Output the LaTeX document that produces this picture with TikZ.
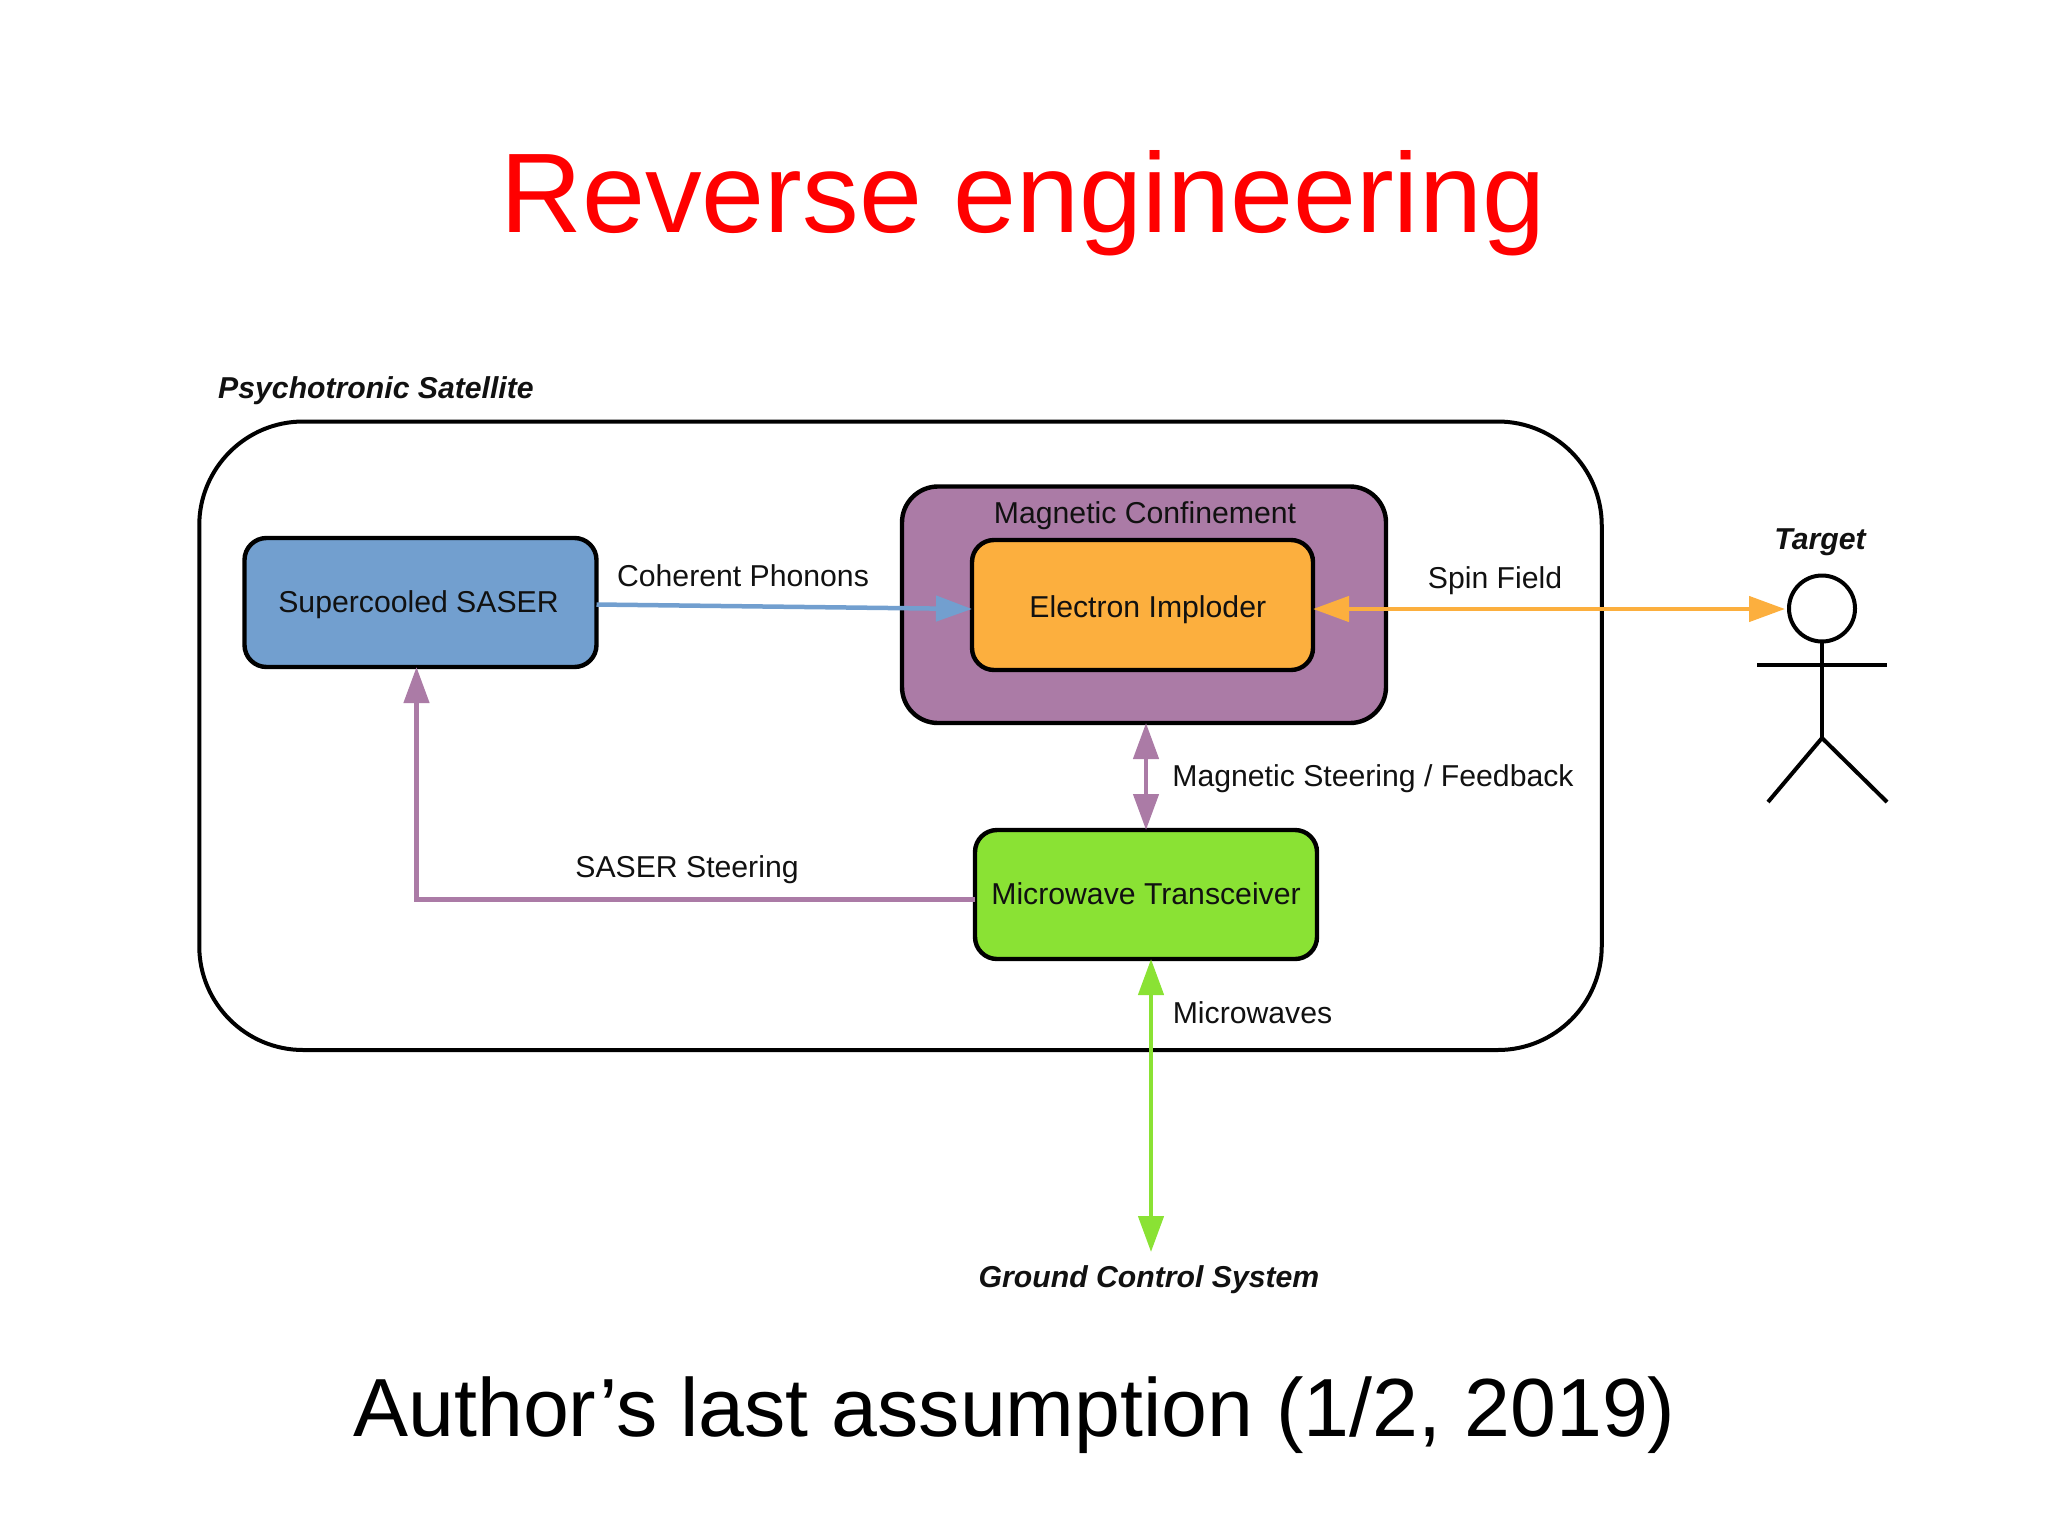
\documentclass[tikz,border=0pt]{standalone}
\usepackage{fontspec}
\setmainfont{Liberation Sans}
\usetikzlibrary{arrows.meta}
\definecolor{saserblue}{HTML}{729FCF}
\definecolor{confinepurple}{HTML}{AB7BA6}
\definecolor{imploderorange}{HTML}{FCAF3E}
\definecolor{waveGreen}{HTML}{8AE234}
\definecolor{inktext}{HTML}{111111}
\begin{document}
\begin{tikzpicture}[x=0.5pt,y=0.5pt,yscale=-1,xscale=1,
  box/.style={draw=black,line width=2.2pt,rounded corners=11pt,outer sep=0pt,inner sep=0pt,text=inktext,text depth=0pt,font=\fontsize{15.1}{18}\selectfont},
  lbl/.style={anchor=base,inner sep=0pt,text=inktext,font=\fontsize{15.1}{18}\selectfont},
  ilbl/.style={anchor=base,inner sep=0pt,text=inktext,font=\fontsize{15.1}{18}\selectfont\itshape\bfseries},
  link/.style={line width=2.25pt},
  bothtip/.style={{Triangle[length=18pt,width=12.5pt]}-{Triangle[length=18pt,width=12.5pt]}},
  endtip/.style={-{Triangle[length=18pt,width=12.5pt]}}]
\useasboundingbox (0,0) rectangle (2048,1536);
\draw (1023,232) node (titletext) [anchor=base,inner sep=0pt,text=red,font=\fontsize{56.6}{60}\selectfont] {Reverse engineering};
\draw (1014.5,1436.5) node (assumption) [anchor=base,inner sep=0pt,text=black,font=\fontsize{41.25}{46}\selectfont] {Author’s last assumption (1/2, 2019)};
\draw (900.5,735.75) node (satellite) [draw=black,line width=2pt,rounded corners=52pt,outer sep=0pt,minimum width=701.25pt,minimum height=314.25pt] {};
\draw (420.5,602.5) node (saser) [box,fill=saserblue,text height=10.1pt,minimum width=176pt,minimum height=64.5pt] {\hspace{-2pt}Supercooled SASER};
\draw (1144,604.75) node (confinement) [box,fill=confinepurple,rounded corners=18pt,minimum width=242pt,minimum height=118.25pt] {};
\draw (1142.5,605) node (imploder) [box,fill=imploderorange,text height=12pt,minimum width=170.5pt,minimum height=65pt] {\hspace{5.3pt}Electron Imploder};
\draw (1146,894.5) node (transceiver) [box,fill=waveGreen,text height=9.5pt,minimum width=171pt,minimum height=64.5pt] {Microwave Transceiver};
\draw (1822,608.5) node (targethead) [circle,draw=black,line width=2pt,outer sep=0pt,inner sep=0pt,minimum size=33pt] {};
\coordinate (groundend) at (1151,1252);
\draw[line width=2pt] (targethead.south) -- (1822,738);
\draw[line width=2pt] (1757,665) -- (1887,665);
\draw[line width=2pt] (1768,802) -- (1822,738) -- (1887,802);
\draw[link,saserblue,endtip] ([yshift=1pt]saser.east) -- ([yshift=2pt]imploder.west);
\draw[link,confinepurple,endtip] ([yshift=2.5pt]transceiver.west) -| ([xshift=-2pt]saser.south);
\draw[link,confinepurple,bothtip] (transceiver.north |- confinement.south) -- (transceiver.north);
\draw[link,imploderorange,bothtip] ([yshift=2pt]imploder.east) -- ([xshift=-2pt,yshift=0.25pt]targethead.west);
\draw[link,waveGreen,bothtip] ([xshift=2.5pt]transceiver.south) -- (groundend);
\draw (376,398) node (satellitelabel) [ilbl] {Psychotronic Satellite};
\draw (743,586.6) node (phononslabel) [lbl] {Coherent Phonons};
\draw (687,877) node (steeringlabel) [lbl] {SASER Steering};
\draw (1145,523.6) node (confinementlabel) [lbl] {Magnetic Confinement};
\draw (1495,588) node (spinlabel) [lbl] {Spin Field};
\draw (1820,549) node (targetlabel) [ilbl] {Target};
\draw (1373,786) node (feedbacklabel) [lbl] {Magnetic Steering / Feedback};
\draw (1252.5,1023) node (microwaveslabel) [lbl] {Microwaves};
\draw (1149,1287) node (groundlabel) [ilbl] {Ground Control System};
\end{tikzpicture}
\end{document}
